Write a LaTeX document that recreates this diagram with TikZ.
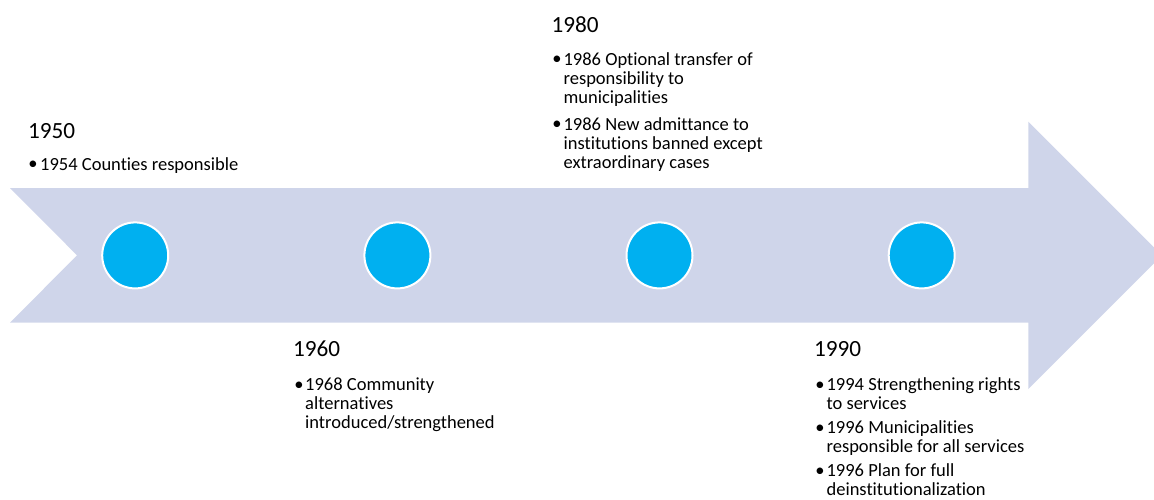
\documentclass[tikz,border=0pt]{standalone}
\usepackage{fontspec}
\setmainfont{Carlito}[Ligatures={TeX,NoCommon}]
\definecolor{arrowfill}{HTML}{CFD5EA}
\definecolor{dotfill}{HTML}{00B0F0}
\newcommand{\firstln}{\rule{0pt}{16pt}}
\begin{document}
\begin{tikzpicture}[x=1pt,y=-1pt,
  year/.style={anchor=base west, inner sep=0, font=\fontsize{23.2}{28}\selectfont},
  item/.style={anchor=north west, inner sep=0, align=left, font=\fontsize{18.5}{19}\selectfont},
  bul/.style={anchor=base, inner sep=0, font=\fontsize{18.5}{19}\selectfont},
  dot/.style={circle, fill=dotfill, draw=white, line width=2pt, minimum size=66pt, inner sep=0}]
\useasboundingbox (0,0) rectangle (1154,500);
\clip (0,0) rectangle (1154,500);
% arrow
\fill[arrowfill] (10,188) -- (1028.3,188) -- (1028.3,121.7) -- (1162,255.3)
  -- (1028.3,389) -- (1028.3,322.7) -- (10,322.7) -- (77,255.3) -- cycle;
% circles
\node[dot] (c1) at (135.2,255.4) {};
\node[dot] (c2) at (397.4,255.4) {};
\node[dot] (c3) at (659.5,255.4) {};
\node[dot] (c4) at (921.7,255.4) {};
% 1950
\node[year] (y1950) at (28,138.3) {1950};
\node[item] (i1950a) at (40,154) {\firstln 1954 Counties responsible};
\node[bul] (b1950a) at (33,170) {•};
% 1980
\node[year] (y1980) at (551.3,32.3) {1980};
\node[item] (i1980a) at (563.4,49) {\firstln 1986 Optional transfer of\\responsibility to\\municipalities};
\node[bul] (b1980a) at (557,65) {•};
\node[item] (i1980b) at (563.4,114) {\firstln 1986 New admittance to\\institutions banned except\\extraordinary cases};
\node[bul] (b1980b) at (557,130) {•};
% 1960
\node[year] (y1960) at (293,356.7) {1960};
\node[item] (i1960a) at (305,374) {\firstln 1968 Community\\alternatives\\introduced/strengthened};
\node[bul] (b1960a) at (299,390) {•};
% 1990
\node[year] (y1990) at (814,356.7) {1990};
\node[item] (i1990a) at (826.4,374.7) {\firstln 1994 Strengthening rights\\to services};
\node[bul] (b1990a) at (820,390.7) {•};
\node[item] (i1990b) at (826.4,417) {\firstln 1996 Municipalities\\responsible for all services};
\node[bul] (b1990b) at (820,433) {•};
\node[item] (i1990c) at (826.4,460) {\firstln 1996 Plan for full\\deinstitutionalization};
\node[bul] (b1990c) at (820,476) {•};
\end{tikzpicture}
\end{document}
